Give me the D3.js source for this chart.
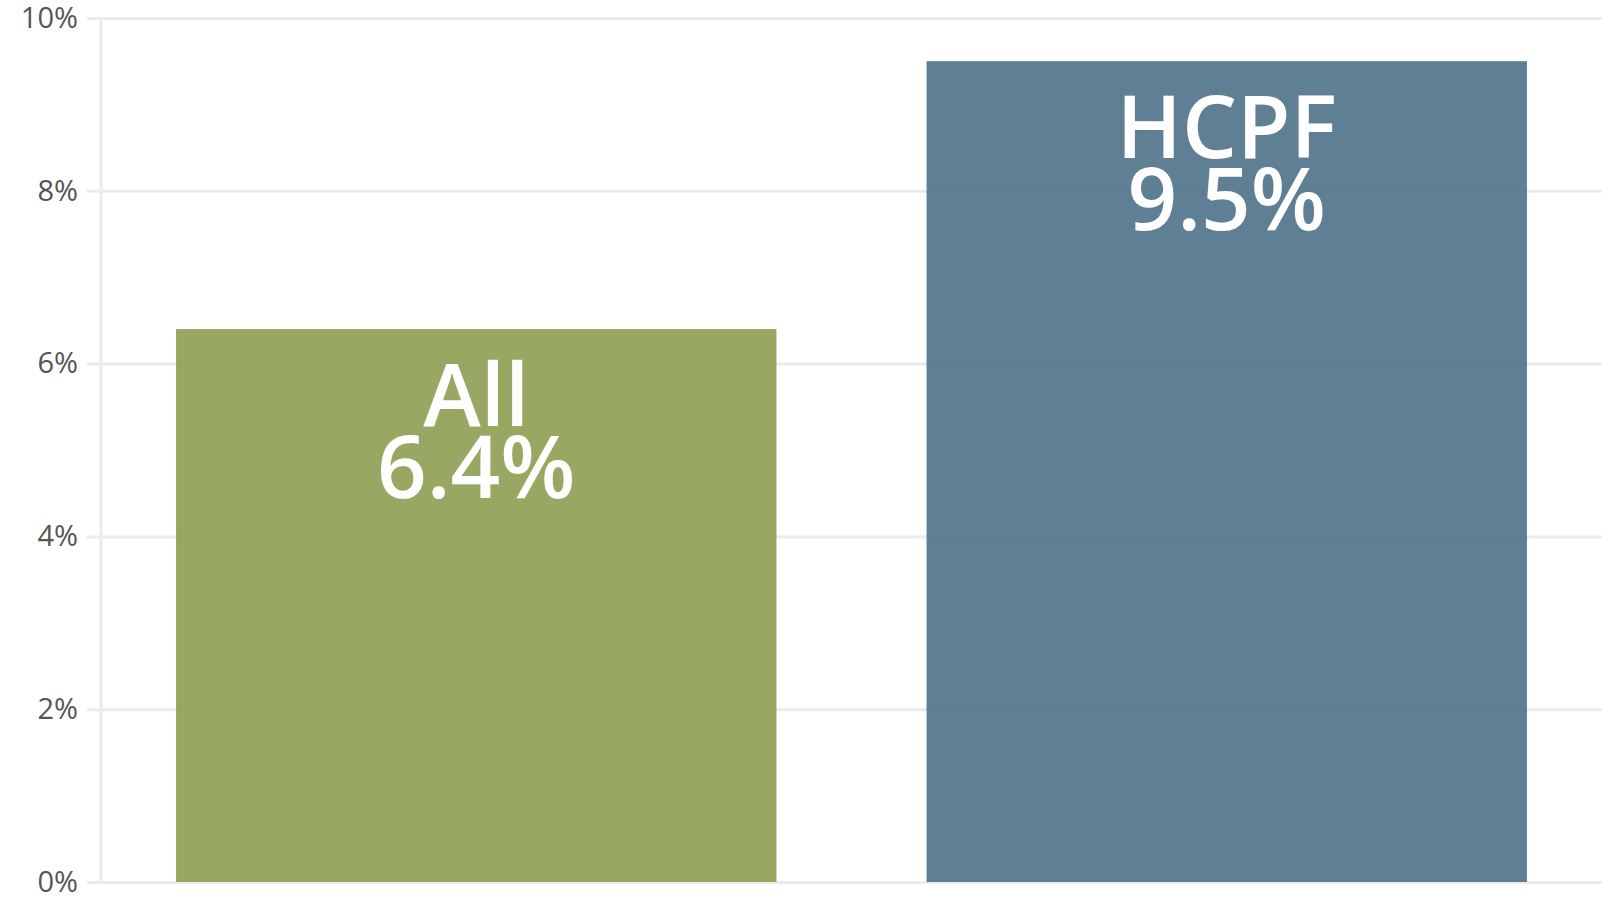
<!DOCTYPE html>
<html>
<head>
<meta charset="utf-8">
<script src="https://cdn.jsdelivr.net/npm/d3@7.9.0/dist/d3.min.js"></script>
<style>
  html, body { margin: 0; padding: 0; background: #fff; }
  svg { display: block; font-family: "Open Sans", "Noto Sans", sans-serif; }
</style>
</head>
<body>
<svg id="chart" width="1617" height="900"></svg>
<script>
// chart data
const groups = ['All', 'HCPF'];
const rates = [6.4, 9.5];
const barColors = ['#8d9e51', '#4d7188'];
const yTicks = [0, 2, 4, 6, 8, 10];

const width = 1617, height = 900;
const margin = { top: 18, right: 15, bottom: 18, left: 101 };

const svg = d3.select('#chart');

const x = d3.scaleBand()
  .domain(groups)
  .range([margin.left, width - margin.right])
  .paddingInner(0.2)
  .paddingOuter(0.1);

const y = d3.scaleLinear()
  .domain([0, 10])
  .range([height - margin.bottom, margin.top]);

// gridlines + tick labels
const yAxis = d3.axisLeft(y)
  .tickValues(yTicks)
  .tickFormat(d => d + '%')
  .tickSize(-(width - margin.right - margin.left + 14))
  .tickPadding(9);

const gy = svg.append('g')
  .attr('transform', `translate(${margin.left - 14},0)`)
  .call(yAxis);

gy.select('.domain').remove();
gy.selectAll('.tick line')
  .attr('stroke', '#ebebeb')
  .attr('stroke-width', 3);
gy.selectAll('.tick text')
  .attr('fill', '#555')
  .attr('font-size', 29)
  .attr('font-family', '"Open Sans", sans-serif');

// vertical axis line
svg.append('line')
  .attr('x1', margin.left).attr('x2', margin.left)
  .attr('y1', y(10)).attr('y2', y(0))
  .attr('stroke', '#ebebeb')
  .attr('stroke-width', 3);

// bars
svg.append('g').selectAll('rect')
  .data(groups)
  .join('rect')
  .attr('x', d => x(d))
  .attr('y', (d, i) => y(rates[i]))
  .attr('width', x.bandwidth())
  .attr('height', (d, i) => y(0) - y(rates[i]))
  .attr('fill', (d, i) => barColors[i])
  .attr('fill-opacity', 0.9);

// labels inside bars
const labels = svg.append('g').selectAll('text')
  .data(groups)
  .join('text')
  .attr('text-anchor', 'middle')
  .attr('fill', '#fff')
  .attr('font-size', 87)
  .attr('font-weight', 600)
  .attr('x', d => x(d) + x.bandwidth() / 2)
  .attr('y', (d, i) => y(rates[i]) + 97);

labels.append('tspan')
  .text(d => d);
labels.append('tspan')
  .attr('x', d => x(d) + x.bandwidth() / 2)
  .attr('dy', 72)
  .text((d, i) => rates[i].toFixed(1) + '%');
</script>
</body>
</html>
